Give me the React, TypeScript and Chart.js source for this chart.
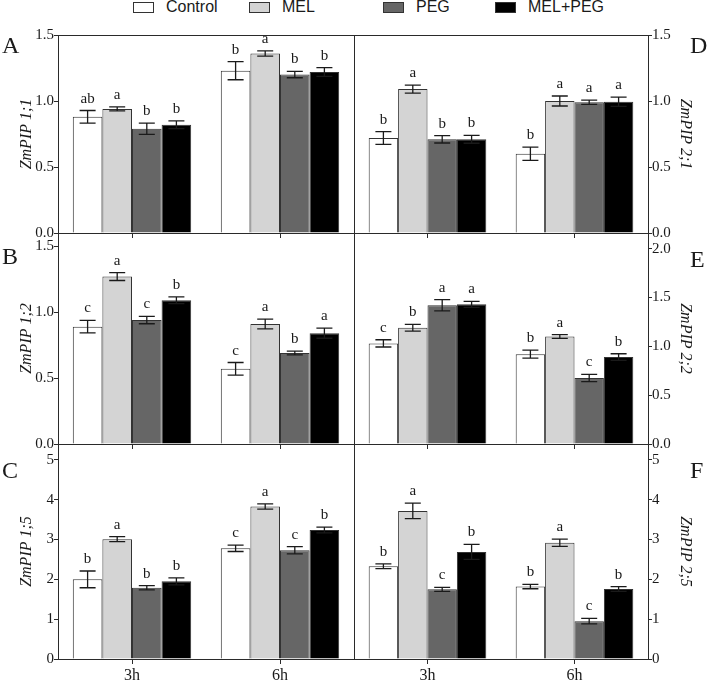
import { useEffect, useRef } from "react"
import { Chart, registerables } from "chart.js"

Chart.register(...registerables)

Chart.defaults.font.family = "'Liberation Serif', 'Times New Roman', serif"
Chart.defaults.color = "#1a1a1a"

const TIMES = ["3h", "6h"]
const TREATMENTS = ["Control", "MEL", "PEG", "MEL+PEG"]
const FILLS = ["#ffffff", "#d4d4d4", "#666666", "#000000"]

// one row per treatment, one column per time point
const PIP11_MEAN = [[0.88, 1.23], [0.94, 1.36], [0.79, 1.2], [0.82, 1.22]]
const PIP11_ERR = [[0.048, 0.069], [0.015, 0.02], [0.043, 0.024], [0.03, 0.033]]
const PIP11_SIG = [["ab", "b"], ["a", "a"], ["b", "b"], ["b", "b"]]

const PIP12_MEAN = [[0.89, 0.57], [1.27, 0.91], [0.94, 0.69], [1.09, 0.84]]
const PIP12_ERR = [[0.047, 0.048], [0.03, 0.037], [0.028, 0.014], [0.025, 0.038]]
const PIP12_SIG = [["c", "c"], ["a", "a"], ["c", "b"], ["b", "a"]]

const PIP15_MEAN = [[2.0, 2.78], [3.01, 3.83], [1.79, 2.73], [1.95, 3.24]]
const PIP15_ERR = [[0.21, 0.08], [0.063, 0.068], [0.055, 0.09], [0.09, 0.07]]
const PIP15_SIG = [["b", "c"], ["a", "a"], ["b", "c"], ["b", "b"]]

const PIP21_MEAN = [[0.72, 0.6], [1.09, 1.0], [0.71, 0.99], [0.71, 0.995]]
const PIP21_ERR = [[0.048, 0.05], [0.03, 0.038], [0.028, 0.016], [0.03, 0.035]]
const PIP21_SIG = [["b", "b"], ["a", "a"], ["b", "a"], ["b", "a"]]

const PIP22_MEAN = [[1.03, 0.92], [1.19, 1.1], [1.42, 0.675], [1.43, 0.89]]
const PIP22_ERR = [[0.037, 0.04], [0.034, 0.019], [0.058, 0.037], [0.031, 0.034]]
const PIP22_SIG = [["c", "b"], ["b", "a"], ["a", "c"], ["a", "b"]]

const PIP25_MEAN = [[2.33, 1.82], [3.72, 2.92], [1.75, 0.95], [2.69, 1.76]]
const PIP25_ERR = [[0.06, 0.055], [0.195, 0.093], [0.05, 0.068], [0.19, 0.06]]
const PIP25_SIG = [["b", "b"], ["a", "a"], ["c", "c"], ["b", "b"]]

type PanelDef = {
  letter: string
  gene: string
  mean: number[][]
  err: number[][]
  sig: string[][]
  side: "left" | "right"
  row: number
  yMax: number
  yStep: number
  digits: number
}

const PANELS: PanelDef[] = [
  { letter: "A", gene: "ZmPIP 1;1", mean: PIP11_MEAN, err: PIP11_ERR, sig: PIP11_SIG, side: "left", row: 0, yMax: 1.5, yStep: 0.5, digits: 1 },
  { letter: "B", gene: "ZmPIP 1;2", mean: PIP12_MEAN, err: PIP12_ERR, sig: PIP12_SIG, side: "left", row: 1, yMax: 1.6, yStep: 0.5, digits: 1 },
  { letter: "C", gene: "ZmPIP 1;5", mean: PIP15_MEAN, err: PIP15_ERR, sig: PIP15_SIG, side: "left", row: 2, yMax: 5.4, yStep: 1, digits: 0 },
  { letter: "D", gene: "ZmPIP 2;1", mean: PIP21_MEAN, err: PIP21_ERR, sig: PIP21_SIG, side: "right", row: 0, yMax: 1.5, yStep: 0.5, digits: 1 },
  { letter: "E", gene: "ZmPIP 2;2", mean: PIP22_MEAN, err: PIP22_ERR, sig: PIP22_SIG, side: "right", row: 1, yMax: 2.16, yStep: 0.5, digits: 1 },
  { letter: "F", gene: "ZmPIP 2;5", mean: PIP25_MEAN, err: PIP25_ERR, sig: PIP25_SIG, side: "right", row: 2, yMax: 5.4, yStep: 1, digits: 0 },
]

// page layout
const W = 709
const H = 683
const ROW_TOP = [35, 233, 444]
const ROW_BOTTOM = [233, 444, 659]
const LEFT_AXIS_W = 58
const DIVIDER = 354
const RIGHT_AXIS_W = 61
const X_AXIS_H = 24
const LEGEND_X = [133, 249, 383, 495]

const INK = "#1a1a1a"
const AXIS = "#2a2a2a"

function Panel({ p }: { p: PanelDef }) {
  const chartRef = useRef<HTMLCanvasElement>(null)

  useEffect(() => {
    if (!chartRef.current) return
    const isLeft = p.side === "left"
    const top = ROW_TOP[p.row]
    const bottom = ROW_BOTTOM[p.row]

    // error bars, significance letters, frame lines and the panel letter
    const decor = {
      id: "decor",
      afterDatasetsDraw(chart: any) {
        const ctx = chart.ctx
        const y = chart.scales.y
        const area = chart.chartArea
        ctx.save()
        ctx.strokeStyle = INK
        ctx.fillStyle = INK
        ctx.lineWidth = 1.3
        chart.data.datasets.forEach((_ds: any, i: number) => {
          chart.getDatasetMeta(i).data.forEach((bar: any, j: number) => {
            const m = p.mean[i][j]
            const e = p.err[i][j]
            const yt = y.getPixelForValue(m + e)
            const yb = y.getPixelForValue(m - e)
            ctx.beginPath()
            ctx.moveTo(bar.x, yt)
            ctx.lineTo(bar.x, yb)
            ctx.moveTo(bar.x - 8, yt)
            ctx.lineTo(bar.x + 8, yt)
            ctx.moveTo(bar.x - 8, yb)
            ctx.lineTo(bar.x + 8, yb)
            ctx.stroke()
            ctx.font = "15px 'Liberation Serif'"
            ctx.textAlign = "center"
            ctx.textBaseline = "alphabetic"
            ctx.fillText(p.sig[i][j], bar.x, yt - 8)
          })
        })

        ctx.strokeStyle = AXIS
        ctx.lineWidth = 1
        ctx.beginPath()
        if (p.row === 0) {
          ctx.moveTo(area.left, Math.round(area.top) + 0.5)
          ctx.lineTo(area.right, Math.round(area.top) + 0.5)
        }
        if (isLeft) {
          ctx.moveTo(Math.round(area.right) + 0.5, area.top)
          ctx.lineTo(Math.round(area.right) + 0.5, area.bottom)
        }
        ctx.stroke()

        const topTick = y.ticks[y.ticks.length - 1].value
        ctx.font = "24px 'Liberation Serif'"
        ctx.textAlign = "left"
        ctx.fillText(p.letter, isLeft ? 2 : 690, y.getPixelForValue(topTick) + 18)
        ctx.restore()
      },
    }

    const chart = new Chart(chartRef.current, {
      type: "bar",
      data: {
        labels: TIMES,
        datasets: TREATMENTS.map((t, i) => ({
          label: t,
          data: p.mean[i],
          backgroundColor: FILLS[i],
          borderColor: "#333333",
          borderWidth: 1,
        })),
      },
      options: {
        responsive: false,
        animation: false,
        events: [],
        layout: {
          padding: {
            left: isLeft ? 0 : DIVIDER,
            right: isLeft ? W - DIVIDER : 0,
            top,
            bottom: H - bottom - X_AXIS_H,
          },
        },
        datasets: { bar: { categoryPercentage: 0.8, barPercentage: 1 } },
        plugins: { legend: { display: false }, tooltip: { enabled: false } },
        scales: {
          x: {
            type: "category",
            offset: true,
            grid: { offset: false, drawOnChartArea: false, tickLength: 5, color: AXIS },
            border: { display: true, color: AXIS },
            ticks: { display: p.row === 2, padding: 2, color: INK, font: { size: 16 } },
            afterFit: (s: any) => {
              s.height = X_AXIS_H
            },
          },
          y: {
            position: p.side,
            min: 0,
            max: p.yMax,
            grid: { drawOnChartArea: false, tickLength: 4, color: AXIS },
            border: { display: true, color: AXIS },
            ticks: {
              stepSize: p.yStep,
              includeBounds: false,
              padding: 0,
              color: INK,
              font: { size: 15 },
              callback: (v: any) => Number(v).toFixed(p.digits),
            },
            title: {
              display: true,
              text: p.gene,
              color: INK,
              font: { size: 16, style: "italic" },
              padding: { top: isLeft ? 17 : 14, bottom: 0 },
            },
            afterFit: (s: any) => {
              s.width = isLeft ? LEFT_AXIS_W : RIGHT_AXIS_W
            },
          },
        },
      } as any,
      plugins: [decor],
    })

    return () => {
      chart.destroy()
    }
  }, [p])

  return (
    <canvas
      ref={chartRef}
      width={W}
      height={H}
      style={{ position: "absolute", left: 0, top: 0 }}
    ></canvas>
  )
}

export default function App() {
  return (
    <div style={{ position: "absolute", left: 0, top: 0, width: W, height: H, background: "#fff" }}>
      {TREATMENTS.map((t, i) => (
        <div
          key={t}
          style={{
            position: "absolute",
            left: LEGEND_X[i],
            top: 0,
            height: 14,
            display: "flex",
            alignItems: "center",
            font: "16px 'Liberation Sans', Arial, sans-serif",
            color: INK,
            whiteSpace: "nowrap",
          }}
        >
          <span
            style={{
              display: "inline-block",
              boxSizing: "border-box",
              width: 21,
              height: 11,
              background: FILLS[i],
              border: "1.5px solid #333",
              marginRight: 12,
            }}
          ></span>
          {t}
        </div>
      ))}
      {PANELS.map((p) => (
        <Panel key={p.letter} p={p} />
      ))}
    </div>
  )
}
